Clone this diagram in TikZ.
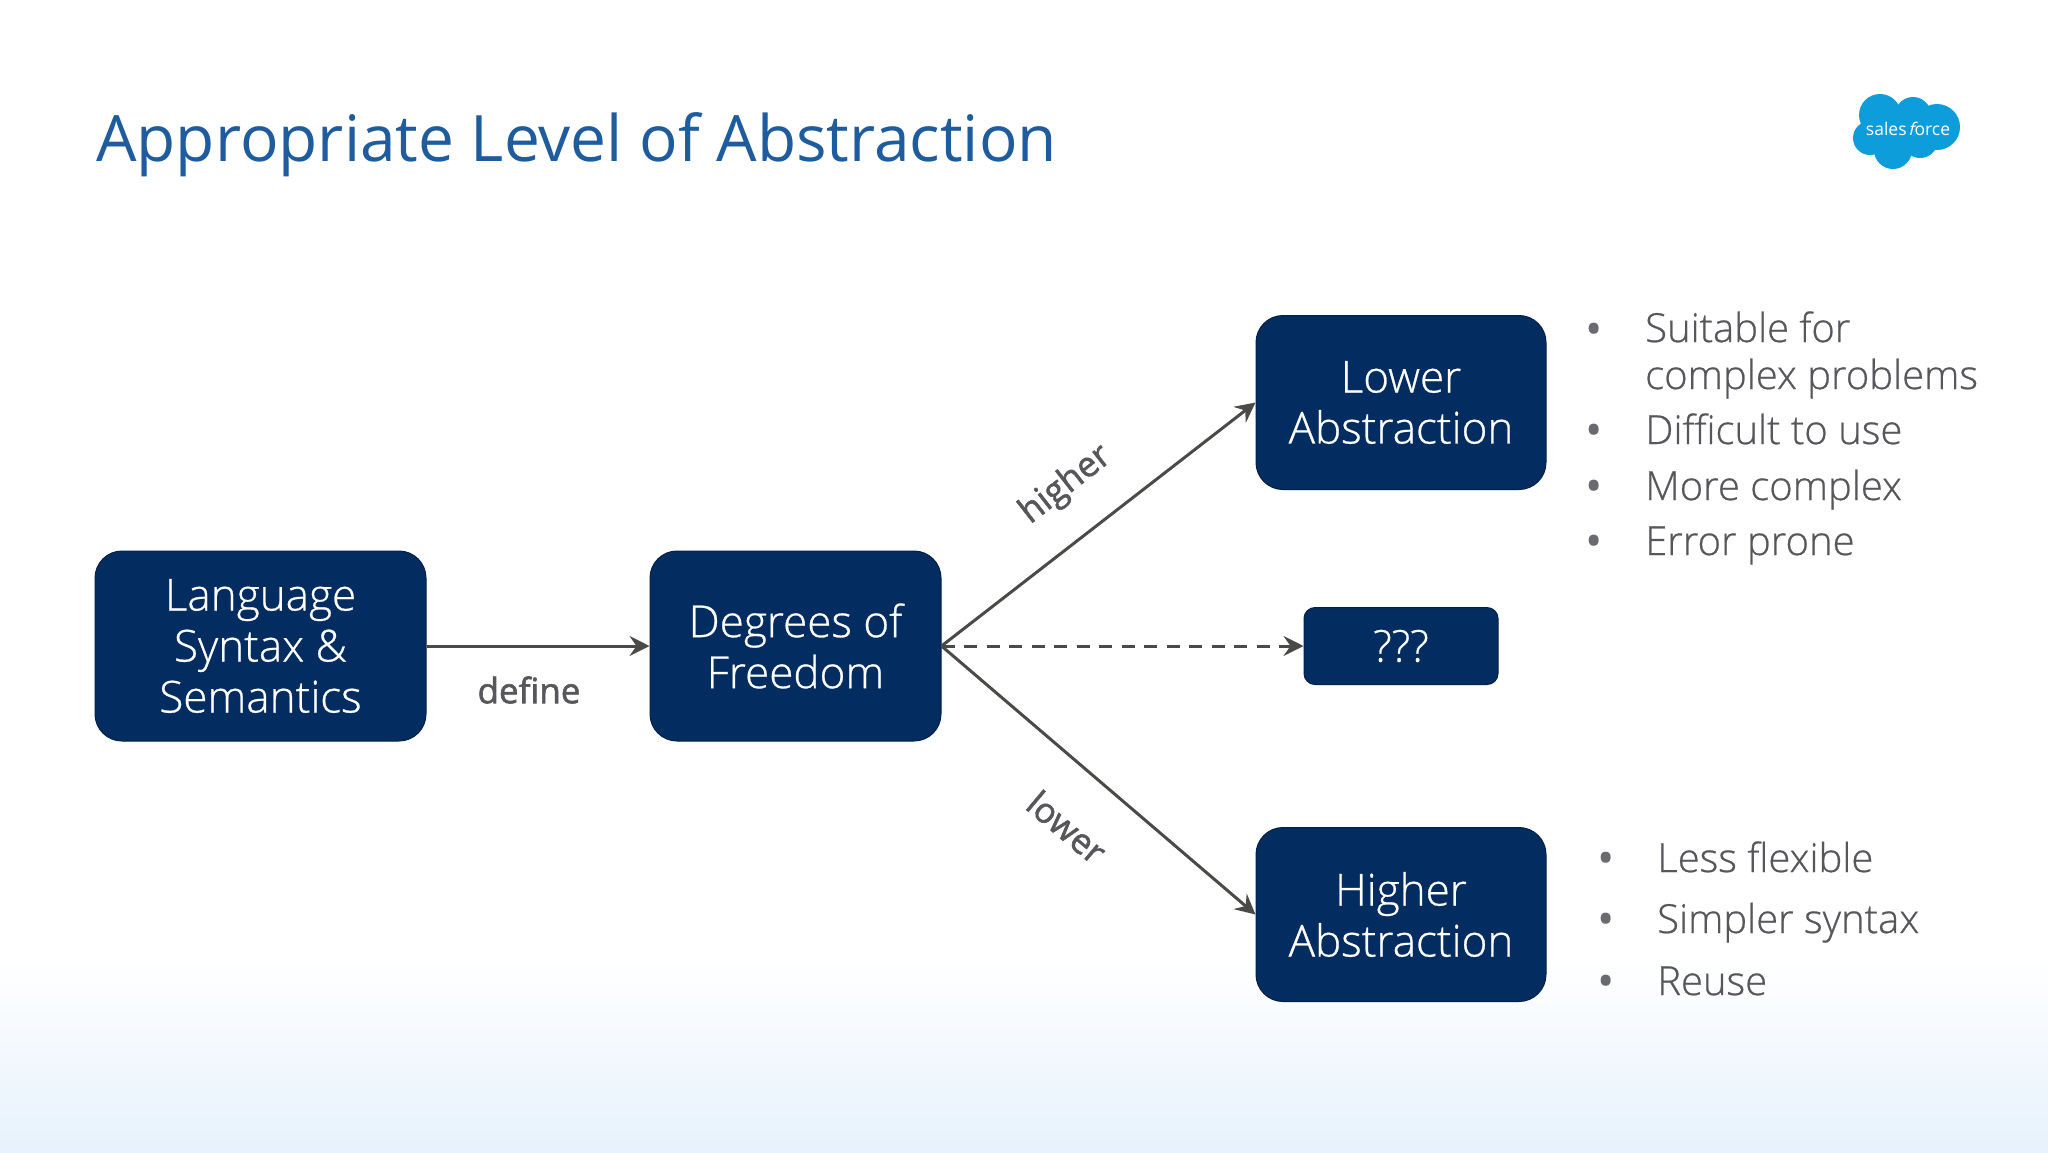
\documentclass[tikz,border=0pt]{standalone}
\usepackage{fontspec}
\setmainfont{Open Sans}
\newfontfamily\lightf[FakeBold=0.6]{Open Sans Light}
\newfontfamily\medf[FakeBold=1.6]{Open Sans}
\newfontfamily\slantf[FakeSlant=0.25]{Open Sans}
\usetikzlibrary{arrows.meta}
\definecolor{navy}{HTML}{032D60}
\definecolor{linegray}{HTML}{4A4A48}
\definecolor{textgray}{HTML}{57575B}
\definecolor{dotgray}{HTML}{6A6A70}
\definecolor{titleblue}{HTML}{1F5C9E}
\definecolor{cloudblue}{HTML}{0D9DDA}
\definecolor{fadeblue}{HTML}{E6F2FC}
\tikzset{
  box/.style={fill=navy,draw=navy!70!black,line width=1pt,rounded corners=27pt,text=white,align=center,inner sep=0pt,
    font=\lightf\fontsize{44}{51}\selectfont},
  link/.style={draw=linegray,line width=3pt,-{Stealth[length=20pt,width=20pt,inset=7pt]}},
  edgelabel/.style={text=textgray,font=\medf\fontsize{35}{40}\selectfont,inner sep=0pt},
  bulletmark/.style={text=dotgray,font=\fontsize{46}{46}\selectfont,inner sep=0pt,anchor=base},
  bullettext/.style={text=textgray,font=\lightf\fontsize{40}{44}\selectfont,inner sep=0pt,anchor=base west}
}
\begin{document}
\begin{tikzpicture}[x=1pt,y=-1pt]
\useasboundingbox (0,0) rectangle (2048,1152);
\fill[white] (0,0) rectangle (2048,1152);
\shade[top color=white,bottom color=fadeblue,shading angle=0] (0,960) rectangle (2048,1152);
\node[anchor=base west,inner sep=0pt,text=titleblue,font=\fontsize{64}{70}\selectfont] (title) at (96,161) {Appropriate Level of Abstraction};
% logo
\fill[cloudblue] (1880,115) circle (21);
\fill[cloudblue] (1913,115) circle (18);
\fill[cloudblue] (1937,127) circle (23);
\fill[cloudblue] (1870,138) circle (17);
\fill[cloudblue] (1893,150) circle (19);
\fill[cloudblue] (1920,140) circle (18);
\fill[cloudblue] (1875,115) rectangle (1925,145);
\node[inner sep=0pt,text=white,font=\fontsize{17.5}{20}\selectfont] (logo) at (1908,129) {sales\kern1.5pt{\slantf f}\kern0.5pt orce};
% boxes
\node[box,minimum width=331pt,minimum height=190pt] (lang) at (260.5,646) {Language\\Syntax \&\\Semantics};
\node[box,minimum width=291pt,minimum height=190pt] (dof) at (795.5,646) {Degrees of\\Freedom};
\node[box,minimum width=290pt,minimum height=174pt] (low) at (1401,402.5) {Lower\\Abstraction};
\node[box,minimum width=194pt,minimum height=77pt,rounded corners=11pt] (q) at (1401,646) {???};
\node[box,minimum width=290pt,minimum height=174pt] (high) at (1401,914.5) {Higher\\Abstraction};
% connectors
\draw[link] (lang.east) -- (dof.west);
\draw[link] (dof.east) -- (low.west);
\draw[link,dash pattern=on 13pt off 9.5pt] (dof.east) -- (q.west);
\draw[link] (dof.east) -- (high.west);
% labels
\node[edgelabel] (define) at (529,690) {define};
\node[edgelabel,rotate=38] (higher) at (1066,485) {higher};
\node[edgelabel,rotate=-40] (lower) at (1067,827) {lower};
% bullets upper
\node[bulletmark] (b1) at (1594,345) {•};
\node[bullettext] (t1) at (1645,342) {Suitable for};
\node[bullettext] (t1b) at (1645,389) {complex problems};
\node[bulletmark] (b2) at (1594,446) {•};
\node[bullettext] (t2) at (1645,444) {Difficult to use};
\node[bulletmark] (b3) at (1594,502) {•};
\node[bullettext] (t3) at (1645,500) {More complex};
\node[bulletmark] (b4) at (1594,557) {•};
\node[bullettext] (t4) at (1645,555) {Error prone};
% bullets lower
\node[bulletmark] (b5) at (1606,874) {•};
\node[bullettext] (t5) at (1657,872) {Less flexible};
\node[bulletmark] (b6) at (1606,935) {•};
\node[bullettext] (t6) at (1657,933) {Simpler syntax};
\node[bulletmark] (b7) at (1606,997) {•};
\node[bullettext] (t7) at (1657,995) {Reuse};
\end{tikzpicture}
\end{document}
